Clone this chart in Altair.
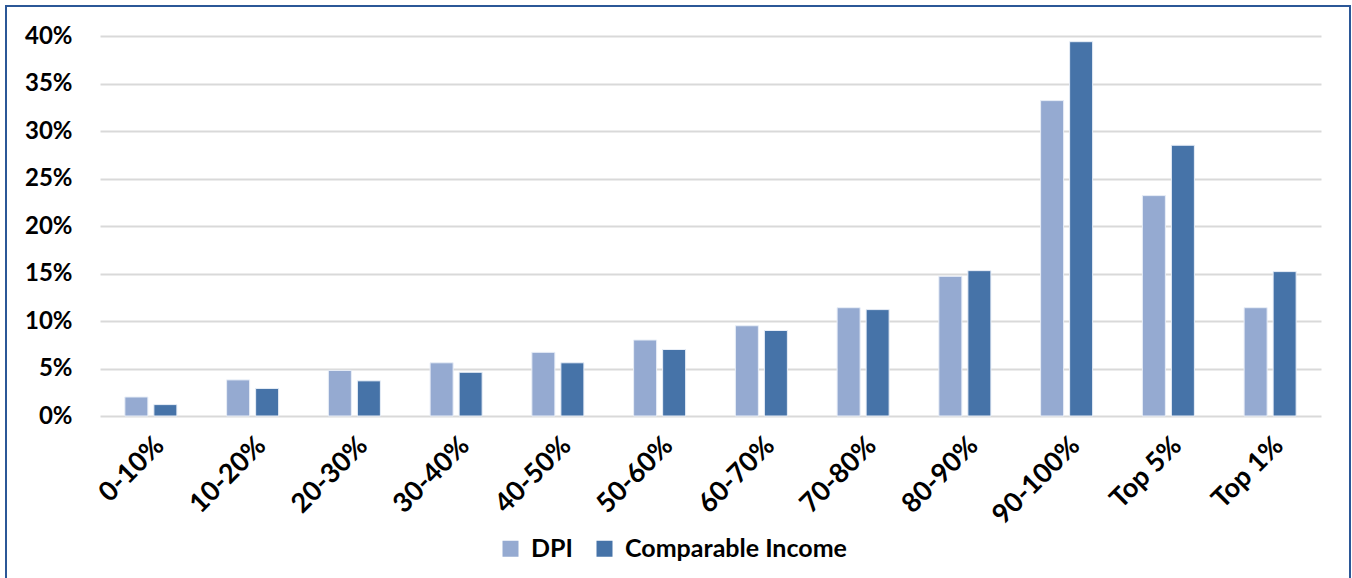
import altair as alt
import pandas as pd

# Income share by group, in percent
groups = ["0-10%", "10-20%", "20-30%", "30-40%", "40-50%", "50-60%",
          "60-70%", "70-80%", "80-90%", "90-100%", "Top 5%", "Top 1%"]
dpi = [2.0, 3.8, 4.8, 5.6, 6.7, 8.0, 9.5, 11.4, 14.7, 33.2, 23.2, 11.4]
comparable = [1.2, 2.9, 3.7, 4.6, 5.6, 7.0, 9.0, 11.2, 15.3, 39.4, 28.5, 15.2]
series = ["DPI", "Comparable Income"]
colors = ["#95AAD1", "#4673A8"]
y_ticks = [0, 5, 10, 15, 20, 25, 30, 35, 40]

rows = []
for g, a, b in zip(groups, dpi, comparable):
    rows.append({"group": g, "series": series[0], "value": a})
    rows.append({"group": g, "series": series[1], "value": b})
df = pd.DataFrame(rows)

FONT = "Lato"
W, H = 1221, 380

bars = alt.Chart(df).mark_bar(stroke="#E8EEF7", strokeWidth=1).encode(
    x=alt.X("group:N", sort=groups, title=None,
            scale=alt.Scale(paddingInner=0.43, paddingOuter=0.215),
            axis=alt.Axis(labelAngle=-45, labelFont=FONT, labelFontSize=27,
                          labelFontWeight="bold", labelColor="#000000",
                          ticks=False, domain=False, labelPadding=16)),
    xOffset=alt.XOffset("series:N", sort=series,
                        scale=alt.Scale(paddingInner=0.207, paddingOuter=0.103)),
    y=alt.Y("value:Q", title=None,
            scale=alt.Scale(domain=[0, 40], nice=False),
            axis=alt.Axis(values=y_ticks, labelExpr="datum.value + '%'",
                          labelFont=FONT, labelFontSize=24, labelFontWeight="bold",
                          labelColor="#000000", ticks=False, domain=False,
                          gridColor="#D9D9D9", gridWidth=2, labelPadding=28)),
    color=alt.Color("series:N", sort=series,
                    scale=alt.Scale(domain=series, range=colors),
                    legend=alt.Legend(title=None, orient="none", direction="horizontal",
                                      legendX=398, legendY=500,
                                      symbolType="square", symbolSize=256,
                                      symbolStrokeWidth=0, labelLimit=0,
                                      labelFont=FONT, labelFontSize=25,
                                      labelFontWeight="bold", labelColor="#000000",
                                      columnPadding=19, labelOffset=8)),
)

# Dark blue frame around the whole figure
frame = alt.Chart(pd.DataFrame({"k": [0]})).mark_rect(
    fill=None, stroke="#2B5797", strokeWidth=2
).encode(
    x=alt.value(-94), x2=alt.value(1250),
    y=alt.value(-30), y2=alt.value(580),
)

chart = alt.layer(bars, frame).properties(
    width=W, height=H,
    autosize=alt.AutoSizeParams(type="none"),
    padding={"left": 100, "top": 36, "right": 31, "bottom": 162},
    background="#FFFFFF",
).configure_view(stroke=None)

chart.save("out.html", embed_options={"renderer": "svg", "actions": False})
